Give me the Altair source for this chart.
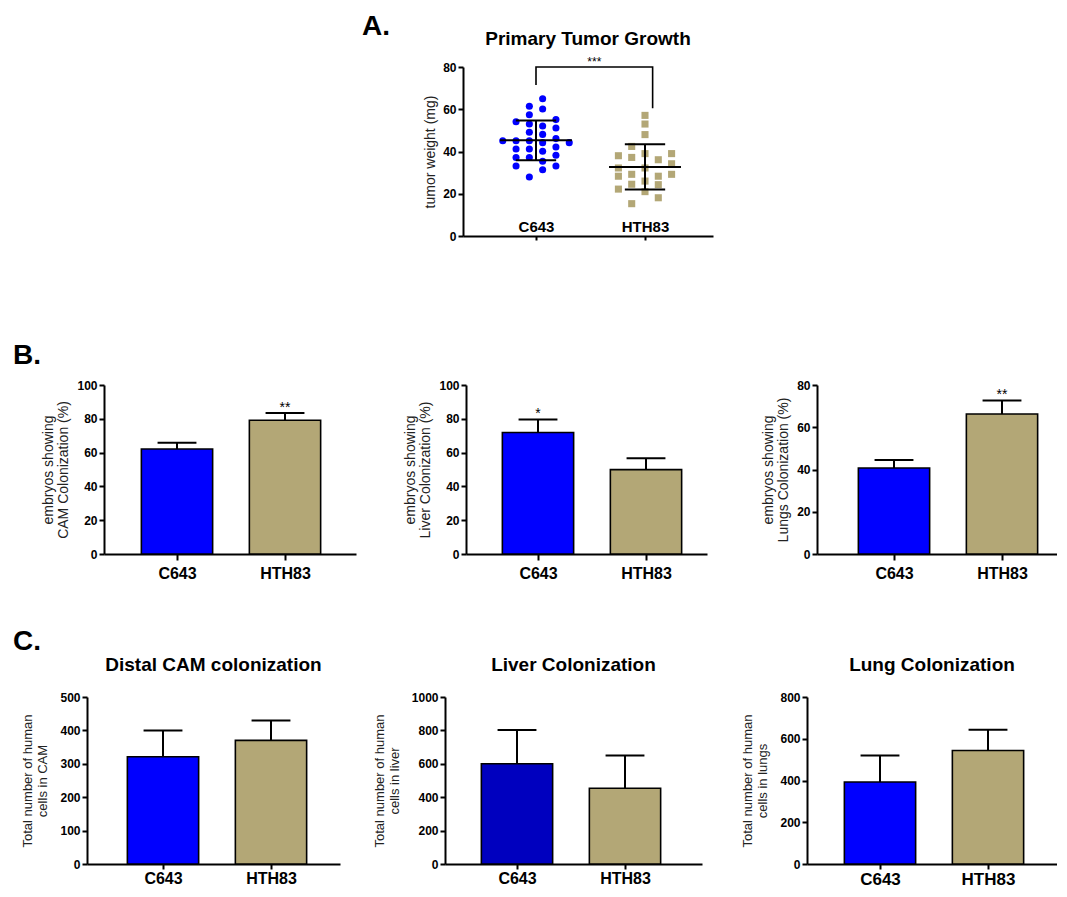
import altair as alt
import pandas as pd

FONT = "Liberation Sans"
BLUE = "#0000FF"
DBLUE = "#0000BF"
TAN = "#B3A776"
UNIT = 108.0

categories = ["C643", "HTH83"]
label_expr = "datum.value == 0 ? '%s' : '%s'" % (categories[0], categories[1])

# ---- Panel A: tumour weights (mg) and beeswarm column of each point ----
tumor_c643 = [45.1,
              54.1, 45.1, 41.2, 37.2, 33.1,
              61.4, 57.4, 53.0, 49.1, 45.1, 41.2, 37.2, 27.9,
              65.0, 60.1, 52.1, 48.1, 44.2, 40.1, 35.4, 31.4,
              55.1, 51.1, 46.1, 42.1, 38.2, 33.1,
              44.2]
col_c643 = [-2.5,
            -1.5, -1.5, -1.5, -1.5, -1.5,
            -0.5, -0.5, -0.5, -0.5, -0.5, -0.5, -0.5, -0.5,
            0.5, 0.5, 0.5, 0.5, 0.5, 0.5, 0.5, 0.5,
            1.5, 1.5, 1.5, 1.5, 1.5, 1.5,
            2.5]
tumor_hth83 = [38.0, 32.2, 28.3, 22.2,
               42.4, 37.2, 29.2, 24.5, 15.3,
               57.1, 53.0, 48.0, 39.0, 32.2, 26.0, 21.0,
               36.1, 28.3, 24.3, 18.1,
               39.0, 34.2, 29.2]
col_hth83 = [-2, -2, -2, -2,
             -1, -1, -1, -1, -1,
             0, 0, 0, 0, 0, 0, 0,
             1, 1, 1, 1,
             2, 2, 2]
tumor_mean = [45.3, 32.7]
tumor_sd = [9.4, 10.7]
bracket_x = [0, 0, 1.07, 1.07]
bracket_y = [71.5, 80, 80, 60.5]
tumor_star = "***"

# ---- Panel B: % embryos showing colonization ----
cam_pct = [62.1, 79.1]
cam_pct_err = [3.8, 4.3]
cam_pct_star = ["", "**"]
liver_pct = [71.9, 49.9]
liver_pct_err = [7.7, 6.7]
liver_pct_star = ["*", ""]
lungs_pct = [40.7, 66.3]
lungs_pct_err = [3.8, 6.4]
lungs_pct_star = ["", "**"]

# ---- Panel C: total number of human cells ----
cam_cells = [321, 370]
cam_cells_err = [79, 60]
liver_cells = [600, 454]
liver_cells_err = [202, 196]
lung_cells = [393, 544]
lung_cells_err = [127, 99]


def x_axis(label_size, label_pad, tick=6):
    return alt.Axis(values=[0, 1], labelExpr=label_expr, title=None, grid=False,
                    domainColor="black", domainWidth=2, tickColor="black", tickWidth=2,
                    tickSize=tick, tickCount=10, labelFont=FONT, labelFontSize=label_size,
                    labelFontWeight="bold", labelColor="black", labelPadding=label_pad,
                    labelBaseline="alphabetic", labelFlush=False, labelOverlap=False)


def y_axis(vals, title, title_size, title_pad):
    return alt.Axis(values=vals, title=title, grid=False, domainColor="black", domainWidth=2,
                    tickColor="black", tickWidth=2, tickSize=5, tickCount=20, format="d",
                    labelFont=FONT, labelFontSize=12, labelFontWeight="bold",
                    labelColor="black", labelPadding=2, labelFlush=False, labelOverlap=False,
                    titleFont=FONT, titleFontSize=title_size, titleFontWeight="normal",
                    titleColor="#222222", titlePadding=title_pad, titleLineHeight=15)


def panel_title(text, dy):
    return alt.TitleParams(text, font=FONT, fontSize=19, fontWeight="bold", color="black",
                           anchor="middle", frame="group", baseline="alphabetic", offset=0,
                           dy=dy)


def bar_panel(vals, errs, stars, colors, width, height, off0, ymax, ystep, ytitle,
              ytitle_size, ytitle_pad, label_size, label_pad, tick=6, title=None):
    df = pd.DataFrame({"cat": categories, "idx": [0, 1], "val": vals, "err": errs,
                       "star": stars, "color": colors})
    lo = -off0 / UNIT
    xs = alt.Scale(domain=[lo, lo + width / UNIT], nice=False, zero=False)
    ys = alt.Scale(domain=[0, ymax], nice=False)
    base = alt.Chart(df).transform_calculate(
        x0="datum.idx - 0.33", x1="datum.idx + 0.33", top="datum.val + datum.err",
        c0="datum.idx - 0.18", c1="datum.idx + 0.18", zero="0")
    bars = base.mark_bar(stroke="black", strokeWidth=1.6).encode(
        x=alt.X("x0:Q", scale=xs, axis=x_axis(label_size, label_pad, tick)),
        x2="x1:Q",
        y=alt.Y("val:Q", scale=ys,
                axis=y_axis(list(range(0, ymax + 1, ystep)), ytitle, ytitle_size, ytitle_pad)),
        y2="zero:Q",
        color=alt.Color("color:N", scale=None))
    err = base.mark_rule(color="black", strokeWidth=2).encode(
        x=alt.X("idx:Q", scale=xs), y=alt.Y("val:Q", scale=ys), y2="top:Q")
    cap = base.mark_rule(color="black", strokeWidth=2).encode(
        x=alt.X("c0:Q", scale=xs), x2="c1:Q", y=alt.Y("top:Q", scale=ys))
    star = base.mark_text(font=FONT, fontSize=14, dy=-1, baseline="alphabetic",
                          color="black").encode(
        x=alt.X("idx:Q", scale=xs), y=alt.Y("top:Q", scale=ys), text="star:N")
    ch = alt.layer(bars, err, cap, star).properties(width=width, height=height)
    if title is not None:
        ch = ch.properties(title=panel_title(title, -1))
    return ch


# ---- Panel A chart ----
pts = pd.DataFrame({
    "idx": [0] * len(tumor_c643) + [1] * len(tumor_hth83),
    "col": col_c643 + col_hth83,
    "w": tumor_c643 + tumor_hth83,
    "shape": ["circle"] * len(tumor_c643) + ["square"] * len(tumor_hth83),
    "color": [BLUE] * len(tumor_c643) + [TAN] * len(tumor_hth83),
})
summ = pd.DataFrame({"idx": [0, 1], "m": tumor_mean, "sd": tumor_sd})
brk = pd.DataFrame({"bx": bracket_x, "by": bracket_y, "o": [0, 1, 2, 3]})
A_UNIT = 109.0
A_W = 250
a_lo = -73 / A_UNIT
axs = alt.Scale(domain=[a_lo, a_lo + A_W / A_UNIT], nice=False, zero=False)
ays = alt.Scale(domain=[0, 80], nice=False)

a_points = alt.Chart(pts).transform_calculate(xj="datum.idx + datum.col * 0.122").mark_point(
    filled=True, size=50, opacity=1).encode(
    x=alt.X("xj:Q", scale=axs, axis=x_axis(15, -8.5, tick=4)),
    y=alt.Y("w:Q", scale=ays, axis=y_axis([0, 20, 40, 60, 80], "tumor weight (mg)", 14, 5)),
    shape=alt.Shape("shape:N", scale=None),
    color=alt.Color("color:N", scale=None))
sbase = alt.Chart(summ).transform_calculate(
    m0="datum.idx - 0.33", m1="datum.idx + 0.33", s0="datum.idx - 0.185",
    s1="datum.idx + 0.185", lo="datum.m - datum.sd", hi="datum.m + datum.sd")
a_mean = sbase.mark_rule(color="black", strokeWidth=2).encode(
    x=alt.X("m0:Q", scale=axs), x2="m1:Q", y=alt.Y("m:Q", scale=ays))
a_hi = sbase.mark_rule(color="black", strokeWidth=2).encode(
    x=alt.X("s0:Q", scale=axs), x2="s1:Q", y=alt.Y("hi:Q", scale=ays))
a_lo_r = sbase.mark_rule(color="black", strokeWidth=2).encode(
    x=alt.X("s0:Q", scale=axs), x2="s1:Q", y=alt.Y("lo:Q", scale=ays))
a_vert = sbase.mark_rule(color="black", strokeWidth=2).encode(
    x=alt.X("idx:Q", scale=axs), y=alt.Y("lo:Q", scale=ays), y2="hi:Q")
a_brk = alt.Chart(brk).mark_line(color="black", strokeWidth=1.6).encode(
    x=alt.X("bx:Q", scale=axs), y=alt.Y("by:Q", scale=ays), order="o:Q")
a_star = alt.Chart(pd.DataFrame({"sx": [(bracket_x[0] + bracket_x[-1]) / 2],
                                 "sy": [max(bracket_y)], "t": [tumor_star]})).mark_text(
    font=FONT, fontSize=12, dy=-1, baseline="alphabetic", color="black").encode(
    x=alt.X("sx:Q", scale=axs), y=alt.Y("sy:Q", scale=ays), text="t:N")

A = alt.layer(a_points, a_mean, a_hi, a_lo_r, a_vert, a_brk, a_star).properties(
    width=A_W, height=169, title=panel_title("Primary Tumor Growth", 8))

# ---- Panel B charts ----
B1 = bar_panel(cam_pct, cam_pct_err, cam_pct_star, [BLUE, TAN], 252, 169, 73, 100, 20,
               ["embryos showing", "CAM Colonization (%)"], 14, 6, 16, 18)
B2 = bar_panel(liver_pct, liver_pct_err, liver_pct_star, [BLUE, TAN], 241, 169, 72, 100, 20,
               ["embryos showing", "Liver Colonization (%)"], 14, 6, 16, 18)
B3 = bar_panel(lungs_pct, lungs_pct_err, lungs_pct_star, [BLUE, TAN], 240, 169, 77, 80, 20,
               ["embryos showing", "Lungs Colonization (%)"], 14, 6, 16, 18)

# ---- Panel C charts ----
C1 = bar_panel(cam_cells, cam_cells_err, ["", ""], [BLUE, TAN], 253, 167, 76, 500, 100,
               ["Total number of human", "cells in CAM"], 13, 10, 16, 14.5, tick=5,
               title="Distal CAM colonization")
C2 = bar_panel(liver_cells, liver_cells_err, ["", ""], [DBLUE, TAN], 257, 167, 72, 1000, 200,
               ["Total number of human", "cells in liver"], 13, 10, 16, 14.5, tick=5,
               title="Liver Colonization")
C3 = bar_panel(lung_cells, lung_cells_err, ["", ""], [BLUE, TAN], 250, 167, 73, 800, 200,
               ["Total number of human", "cells in lungs"], 13, 10, 17, 15, tick=5,
               title="Lung Colonization")


def letter(text, dx, dy):
    return alt.Chart(pd.DataFrame({"t": [text]})).mark_text(
        font=FONT, fontSize=28, fontWeight="bold", align="left", baseline="alphabetic",
        color="black").encode(x=alt.value(dx), y=alt.value(dy), text="t:N")


def spacer(w, letters):
    return alt.layer(*[letter(*l) for l in letters]).properties(width=w, height=1)


# nested concat groups count as zero-height in flush layout, so the row gaps include
# the panel height (169) plus the visible gap
rowA = alt.hconcat(spacer(376, [("A.", 275, -32)]), A, spacing=0, bounds="flush")
rowB = alt.hconcat(spacer(17, [("B.", -74, -21), ("C.", -74, 265)]),
                   alt.hconcat(B1, B2, B3, spacing=110, bounds="flush"),
                   spacing=0, bounds="flush")
rowC = alt.hconcat(C1, C2, C3, spacing=105, bounds="flush")
bc = alt.vconcat(rowB, rowC, spacing=169 + 143, bounds="flush")

chart = alt.vconcat(rowA, bc, spacing=169 + 149, bounds="flush").properties(
    padding={"left": 5, "top": 5, "right": 0, "bottom": 0},
    background="white"
).configure_view(stroke=None)

chart.save("out.html", embed_options={"renderer": "svg", "actions": False})
